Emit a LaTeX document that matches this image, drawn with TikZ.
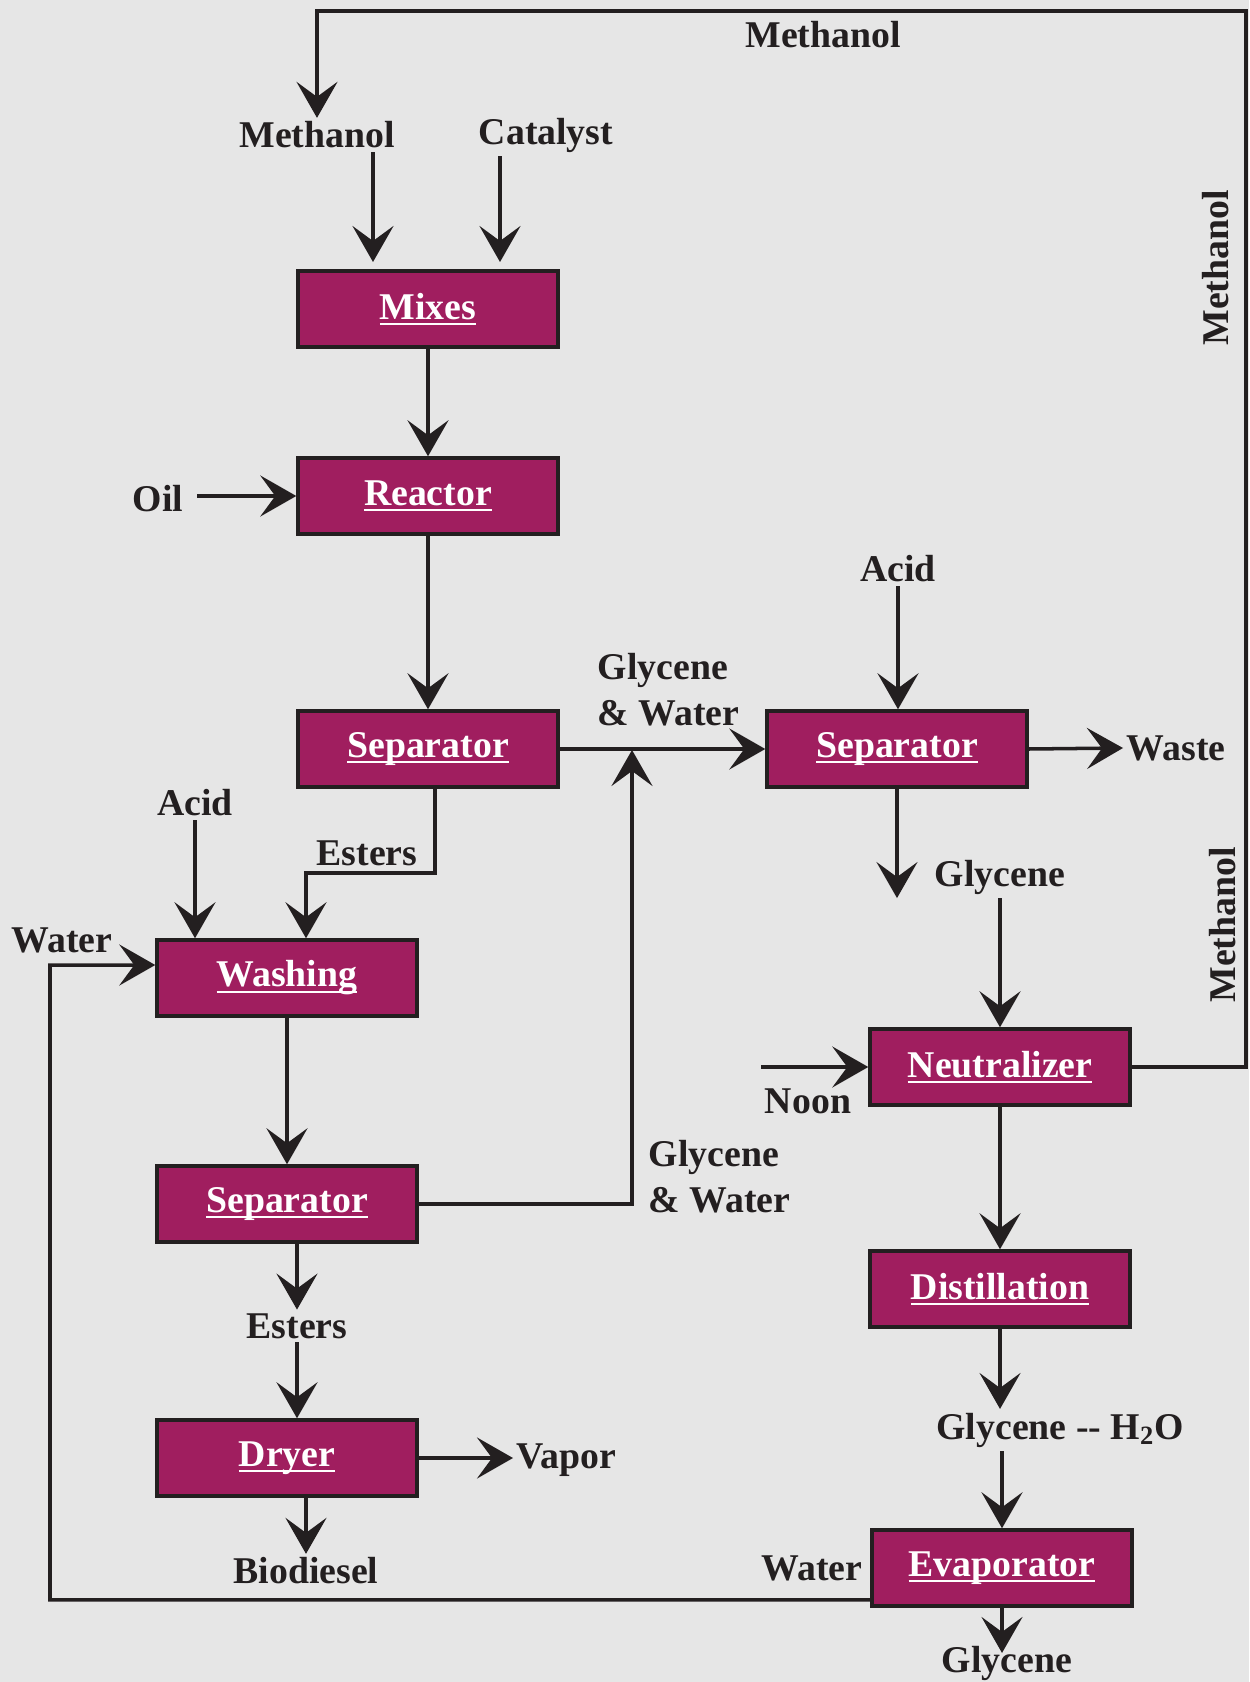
\documentclass[tikz,border=0pt]{standalone}
\usepackage{fontspec}
\setmainfont{Liberation Serif}
\usetikzlibrary{arrows.meta}
\definecolor{unitfill}{RGB}{160,30,95}
\definecolor{bgc}{RGB}{230,230,230}
\definecolor{linec}{RGB}{35,31,32}
% underlined name inside a unit box
\newcommand{\unitname}[1]{\setbox0\hbox{#1}\rlap{\rule[-3.4pt]{\wd0}{1.3pt}}\box0}
\tikzset{
  unit/.style={draw=linec, line width=2pt, fill=unitfill, minimum width=5.2cm, minimum height=1.52cm, text=white},
  lbl/.style={text=linec, inner sep=2pt},
  flow/.style={draw=linec, line width=2pt, -{Stealth[length=0.72cm,width=0.82cm,inset=0.3cm]}},
}
\begin{document}
\begin{tikzpicture}[x=0.02cm, y=-0.02cm, font=\fontsize{21.5}{24}\selectfont\bfseries]
        % the background
        \fill[bgc] (0,0) rectangle (1249,1682);
        \useasboundingbox (0,0) rectangle (1249,1682);

        % the process units
        \node[unit] (mixes)   at (428,309)  {\unitname{Mixes}};
        \node[unit] (reactor) at (428,496)  {\unitname{Reactor}};
        \node[unit] (sepA)    at (428,749)  {\unitname{Separator}};
        \node[unit] (sepB)    at (897,749)  {\unitname{Separator}};
        \node[unit] (wash)    at (287,978)  {\unitname{Washing}};
        \node[unit] (sepC)    at (287,1204) {\unitname{Separator}};
        \node[unit] (dryer)   at (287,1458) {\unitname{Dryer}};
        \node[unit] (neutr)   at (1000,1067) {\unitname{Neutralizer}};
        \node[unit] (distil)  at (1000,1289) {\unitname{Distillation}};
        \node[unit] (evap)    at (1002,1568) {\unitname{Evaporator}};

        % the stream labels
        \node[lbl] (methTop) at (823,35)  {Methanol};
        \node[lbl] (methIn)  at (317,135) {Methanol};
        \node[lbl] (catIn)   at (546,135) {Catalyst};
        \node[lbl] (oilIn)   at (158,499) {Oil};
        \node[lbl] (acidB)   at (898,569) {Acid};
        \node[lbl, anchor=west, align=left] (glyWA) at (594,690) {Glycene\\[2pt] \& Water};
        \node[lbl, anchor=west] (waste) at (1123,748) {Waste};
        \node[lbl] (glyB)    at (1000,877) {Glycene};
        \node[lbl] (noon)    at (808,1101) {Noon};
        \node[lbl, anchor=west, align=left] (glyWB) at (645,1177) {Glycene\\[2pt] \& Water};
        \node[lbl] (acidA)   at (195,803) {Acid};
        \node[lbl] (esterA)  at (367,853) {Esters};
        \node[lbl] (waterA)  at (62,940)  {Water};
        \node[lbl] (esterB)  at (297,1326) {Esters};
        \node[lbl, anchor=west] (vapor) at (513,1460) {Vapor};
        \node[lbl] (biod)    at (306,1571) {Biodiesel};
        \node[lbl] (glyH2O)  at (1060,1430) {Glycene -{}- H\textsubscript{2}O};
        \node[lbl] (waterB)  at (812,1568) {Water};
        \node[lbl] (glyOut)  at (1007,1663) {Glycene};
        \node[lbl, rotate=90] (methR1) at (1216,268) {Methanol};
        \node[lbl, rotate=90] (methR2) at (1223,925) {Methanol};

        % bend points of the lines
        \coordinate (loopTR) at (1246,11);
        \coordinate (inMeth) at (373,262);
        \coordinate (inCat) at (500,262);
        \coordinate (joinG) at (632,750);
        \coordinate (estBend) at (306,873);
        \coordinate (loopW) at (50,965);

        % methanol recycled to the top
        \draw[flow] (neutr.east) -| (loopTR) -| (methIn.north);

        % feeds into mixes and reactor
        \draw[flow] (methIn.south -| inMeth) -- (inMeth);
        \draw[flow] (catIn.south -| inCat) -- (inCat);
        \draw[flow] (mixes.south) -- (reactor.north);
        \draw[flow, shorten <=0.2cm] (oilIn.east |- reactor.west) -- (reactor.west);
        \draw[flow] (reactor.south) -- (sepA.north);

        % glycene and water to the right separator
        \draw[flow] (sepA.east) -- (sepB.west);
        \draw[flow] (sepC.east) -| (joinG);
        \draw[flow] (acidB.south) -- (acidB.south |- sepB.north);
        \draw[flow] (sepB.east) -- (waste.west);

        % the glycene line
        \draw[flow] (sepB.south) -- (sepB.south |- glyB.south);
        \draw[flow] (glyB.south) -- (neutr.north);
        \draw[flow] (noon.west |- neutr.west) -- (neutr.west);
        \draw[flow] (neutr.south) -- (distil.north);
        \draw[flow] (distil.south) -- (distil.south |- glyH2O.north);
        \draw[flow] (evap.north |- glyH2O.south) -- (evap.north);
        \draw[flow] (evap.south) -- ([yshift=-.22cm]evap.south |- glyOut.north);

        % water back to washing
        \draw[flow] ([yshift=.16cm]evap.south west) -| (loopW) -- ([yshift=.26cm]wash.west);

        % the ester line
        \draw[flow] (acidA.south) -- (acidA.south |- wash.north);
        \draw[flow] ([xshift=.14cm]sepA.south) |- (estBend) -- (estBend |- wash.north);
        \draw[flow] (wash.south) -- (sepC.north);
        \draw[flow] (esterB.north |- sepC.south) -- (esterB.north);
        \draw[flow] (esterB.south) -- (esterB.south |- dryer.north);
        \draw[flow] (dryer.east) -- (dryer.east -| vapor.west);
        \draw[flow] (biod.north |- dryer.south) -- (biod.north);
\end{tikzpicture}
\end{document}
